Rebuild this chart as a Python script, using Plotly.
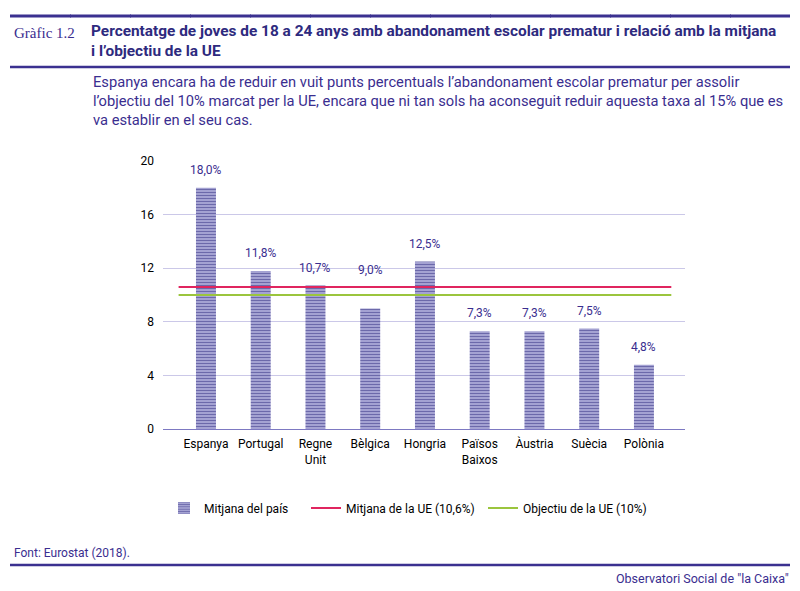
import plotly.graph_objects as go

countries = ["Espanya", "Portugal", "Regne<br>Unit", "Bèlgica", "Hongria",
             "Països<br>Baixos", "Àustria", "Suècia", "Polònia"]
rates = [18.0, 11.8, 10.7, 9.0, 12.5, 7.3, 7.3, 7.5, 4.8]
eu_mean = 10.6
eu_target = 10.0
y_ticks = [0, 4, 8, 12, 16, 20]

navy = "#2e2a7e"
lav = "#aaa8d6"
red = "#e0255f"
green = "#9bc53d"
txt = "#3a2e8f"
rule = "#3b3190"

# page pixels; the html body adds an 8px margin, so the figure is drawn 8px in
OFF = 8
W, H = 800, 591
L, R, T, B = 163, 685, 161, 429


def px(x):
    return (x - L) / (R - L)


def py(y):
    return (B - y) / (B - T)


fig = go.Figure()
fig.add_trace(go.Bar(
    x=list(range(len(countries))), y=rates, width=0.365,
    name="Mitjana del país", legend="legend",
    marker=dict(color=lav, line=dict(width=0),
                pattern=dict(shape="-", fgcolor=navy, bgcolor=lav, size=3, solidity=0.4)),
))
fig.add_trace(go.Scatter(x=[None], y=[None], mode="lines", name="Mitjana de la UE (10,6%)",
                         legend="legend2", line=dict(color=red, width=2)))
fig.add_trace(go.Scatter(x=[None], y=[None], mode="lines", name="Objectiu de la UE (10%)",
                         legend="legend3", line=dict(color=green, width=2)))

for val, col in [(eu_mean, red), (eu_target, green)]:
    fig.add_shape(type="line", xref="x", yref="y", x0=-0.5, x1=len(countries) - 0.5,
                  y0=val, y1=val, line=dict(color=col, width=2), layer="above")

# header / footer rules
for yy in [67, 565]:
    fig.add_shape(type="line", xref="paper", yref="paper", x0=px(10), x1=px(790),
                  y0=py(yy), y1=py(yy), line=dict(color=rule, width=2.5))
# top rule, in short pieces
for xa in range(10, 790, 60):
    fig.add_shape(type="line", xref="paper", yref="paper", x0=px(xa), x1=px(min(xa + 61, 790)),
                  y0=py(16), y1=py(16), line=dict(color=rule, width=3), layer="below")

ann = []
for i, v in enumerate(rates):
    lift = 29 if countries[i] == "Bèlgica" else 9
    ann.append(dict(x=i, y=v, xref="x", yref="y", text=f"{v:.1f}%".replace(".", ","),
                    yanchor="bottom", yshift=lift, showarrow=False,
                    font=dict(color=txt, size=12)))

head = [
    dict(x=px(12), y=py(33), text="Gràfic 1.2", xanchor="left",
         font=dict(family="Liberation Serif", size=15, color=txt)),
    dict(x=px(89), y=py(41), text="<b>Percentatge de joves de 18 a 24 anys amb abandonament escolar prematur i relació amb la mitjana"
         "<br>i l’objectiu de la UE</b>", xanchor="left", align="left",
         font=dict(family="Roboto", size=15.4, color=navy)),
    dict(x=px(91), y=py(101), text="Espanya encara ha de reduir en vuit punts percentuals l’abandonament escolar prematur per assolir"
         "<br>l’objectiu del 10% marcat per la UE, encara que ni tan sols ha aconseguit reduir aquesta taxa al 15% que es"
         "<br>va establir en el seu cas.", xanchor="left", align="left",
         font=dict(family="Roboto", size=14.7, color=txt)),
    dict(x=px(12), y=py(553), text="Font: Eurostat (2018).", xanchor="left",
         font=dict(family="Roboto", size=12, color=txt)),
    dict(x=px(791), y=py(578), text="Observatori Social de \"la Caixa\"", xanchor="right",
         font=dict(family="Roboto", size=12.5, color=txt)),
]
for a in head:
    a.update(xref="paper", yref="paper", yanchor="middle", showarrow=False)

leg = dict(orientation="h", xanchor="left", y=py(508), yanchor="middle",
           font=dict(size=12, color="black"), bgcolor="rgba(0,0,0,0)")

fig.update_layout(
    width=W - OFF, height=H - OFF,
    margin=dict(l=L - OFF, r=W - R, t=T - OFF, b=H - B),
    paper_bgcolor="white", plot_bgcolor="white",
    font=dict(family="Roboto", size=12, color="black"),
    showlegend=True, annotations=ann + head,
    legend=dict(leg, x=px(164)),
    legend2=dict(leg, x=px(306)),
    legend3=dict(leg, x=px(483)),
    xaxis=dict(range=[-0.785, 8.75], tickvals=list(range(len(countries))), ticktext=countries,
               showgrid=False, zeroline=False, ticks="", showline=False, ticklabelstandoff=6),
    yaxis=dict(range=[0, 20], tickvals=y_ticks, showgrid=True, gridcolor="#cbc8e8",
               zeroline=True, zerolinecolor="#7d79c2", zerolinewidth=1, ticks="",
               ticklabelstandoff=8),
)
fig.write_html("out.html", config={"displayModeBar": False})
